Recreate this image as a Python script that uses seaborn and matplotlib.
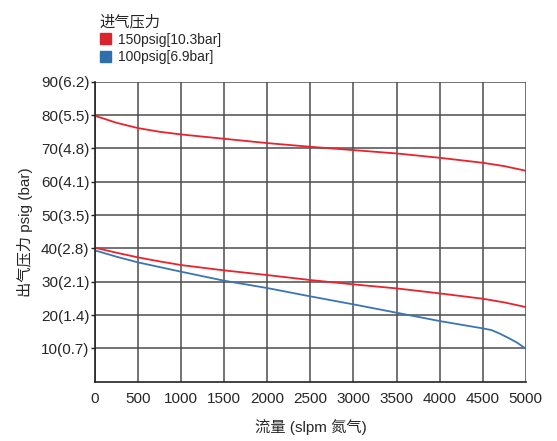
import pandas as pd
import numpy as np
import matplotlib.pyplot as plt
import seaborn as sns
from matplotlib.patches import Patch

flow = [0, 250, 500, 750, 1000, 1500, 2000, 2500, 3000, 3500, 4000, 4500, 4750, 5000]
red_high = [79.8, 77.7, 76.1, 75.0, 74.2, 72.9, 71.6, 70.5, 69.5, 68.5, 67.2, 65.7, 64.7, 63.3]
red_low = [40.2, 38.7, 37.3, 36.1, 35.0, 33.4, 32.0, 30.5, 29.2, 28.0, 26.5, 24.9, 23.8, 22.4]
blue_flow = [0, 250, 500, 750, 1000, 1500, 2000, 2500, 3000, 3500, 4000, 4500, 4600, 4700, 4800, 4900, 5000]
blue = [39.4, 37.5, 35.8, 34.4, 33.0, 30.3, 28.1, 25.6, 23.2, 20.7, 18.2, 16.0, 15.5, 14.4, 13.1, 11.7, 9.9]
yticks = [10, 20, 30, 40, 50, 60, 70, 80, 90]
ytick_labels = ["10(0.7)", "20(1.4)", "30(2.1)", "40(2.8)", "50(3.5)",
                "60(4.1)", "70(4.8)", "80(5.5)", "90(6.2)"]
xticks = [0, 500, 1000, 1500, 2000, 2500, 3000, 3500, 4000, 4500, 5000]
legend_labels = ["150psig[10.3bar]", "100psig[6.9bar]"]

sns.set_style("white")
plt.rcParams["font.family"] = ["Liberation Sans", "Noto Sans CJK SC", "DejaVu Sans"]

RED = "#e8232c"
BLUE = "#3b75b3"

fig = plt.figure(figsize=(5.57, 4.41), dpi=100)
ax = fig.add_axes([0.1706, 0.1345, 0.7734, 0.68])

sns.lineplot(x=flow, y=red_high, color=RED, lw=1.3, ax=ax)
sns.lineplot(x=flow, y=red_low, color=RED, lw=1.3, ax=ax)
sns.lineplot(x=blue_flow, y=blue, color=BLUE, lw=1.3, ax=ax)

ax.set_xlim(0, 5000)
ax.set_ylim(0, 90)
ax.set_xticks(xticks)
ax.set_xticklabels([str(v) for v in xticks], fontsize=11)
ax.set_yticks(yticks)
ax.set_yticklabels(ytick_labels, fontsize=11)
ax.grid(True, color="#4d4d4d", lw=1.1)
ax.set_axisbelow(True)
for s in ["top", "right"]:
    ax.spines[s].set_visible(False)
for s in ["left", "bottom"]:
    ax.spines[s].set_color("#222222")
    ax.spines[s].set_linewidth(1.2)
ax.tick_params(axis="y", left=True, length=3, width=1, color="#222222", pad=1)
ax.tick_params(axis="x", bottom=False, pad=4)

ax.set_xlabel("流量 (slpm 氮气)", fontsize=11, labelpad=9)
ax.set_ylabel("出气压力 psig (bar)", fontsize=11, labelpad=6)

handles = [Patch(color="#d9262e"), Patch(color="#2f6fad")]
fig.legend(handles, legend_labels, title="进气压力", loc="upper left",
           bbox_to_anchor=(0.169, 0.98), frameon=False, fontsize=10,
           title_fontsize=11, alignment="left", handlelength=0.85,
           handleheight=0.85, handletextpad=0.5, labelspacing=0.25,
           borderaxespad=0)

fig.savefig("out.png", dpi=100)
